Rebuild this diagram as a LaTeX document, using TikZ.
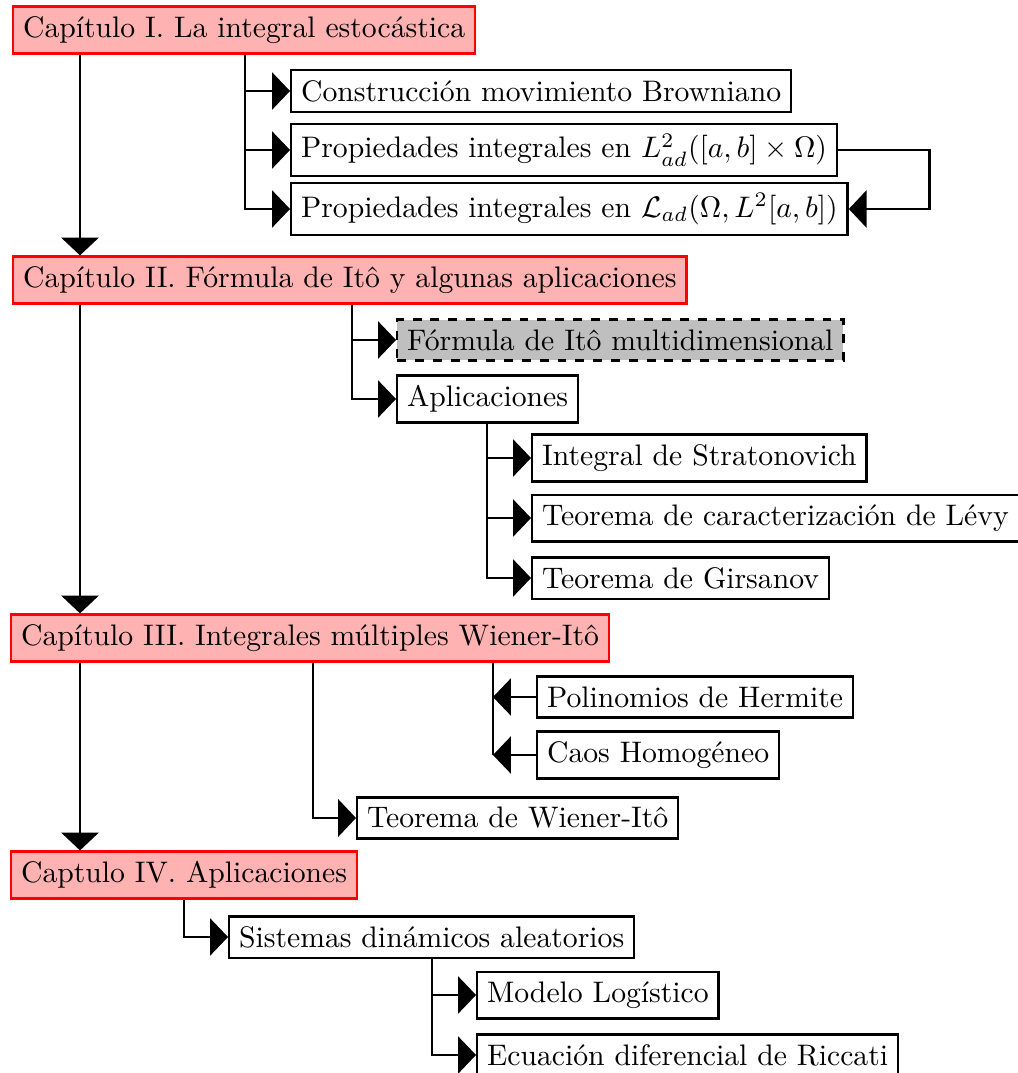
\documentclass[tikz,border=0pt]{standalone}
\usepackage{amsmath}
\usepackage{amssymb}
\usepackage{tikz}
\usetikzlibrary{arrows.meta, positioning, calc}

\begin{document}
\begin{tikzpicture}[x=0.3367pt, y={(0pt,-0.3367pt)},
  chapbox/.style={draw=red, thick, fill=red!30, anchor=west},
  itembox/.style={draw=black, thick, fill=white, anchor=west},
  greybox/.style={itembox, dashed, fill=gray!50},
  tree/.style={-{Triangle[length=6pt,width=12.5pt]}},
  spine/.style={line width=1pt, -{Triangle[length=6pt,width=12.5pt]}}]
\useasboundingbox (0,0) rectangle (1018,1073);

% chapters
\node[chapbox] (capI)   at (12,30)  {Capítulo I. La integral estocástica};
\node[chapbox] (capII)  at (12,280) {Capítulo II. Fórmula de Itô y algunas aplicaciones};
\node[chapbox] (capIII) at (10,638) {Capítulo III. Integrales múltiples Wiener-Itô};
\node[chapbox] (capIV)  at (10,875) {Captulo IV. Aplicaciones};

% branch points
\coordinate (axis) at (80,0);
\coordinate (bI)   at (245,0);
\coordinate (bII)  at (352,0);
\coordinate (bap)  at (487,0);
\coordinate (bwi)  at (313,0);
\coordinate (bher) at (493,0);
\coordinate (bIV)  at (184,0);
\coordinate (bsis) at (432,0);

% capitulo I
\node[itembox] (brown) at (290,91)  {Construcción movimiento Browniano};
\node[itembox] (propA) at (290,150) {Propiedades integrales en $L^2_{ad}([a,b]\times\Omega)$};
\node[itembox] (propB) at (290,209) {Propiedades integrales en $\mathcal{L}_{ad}(\Omega,L^2[a,b])$};

% capitulo II
\node[greybox] (multi) at (396,340) {Fórmula de Itô multidimensional};
\node[itembox] (aplic) at (396,399) {Aplicaciones};
\node[itembox] (strat) at (531,458) {Integral de Stratonovich};
\node[itembox] (levy)  at (531,518) {Teorema de caracterización de Lévy};
\node[itembox] (girs)  at (531,578) {Teorema de Girsanov};

% capitulo III
\node[itembox] (herm)  at (536,697) {Polinomios de Hermite};
\node[itembox] (caos)  at (536,755) {Caos Homogéneo};
\node[itembox] (wien)  at (356,818) {Teorema de Wiener-Itô};

% capitulo IV
\node[itembox] (sist)  at (228,937)  {Sistemas dinámicos aleatorios};
\node[itembox] (logis) at (476,995)  {Modelo Logístico};
\node[itembox] (ricc)  at (476,1055) {Ecuación diferencial de Riccati};

% main line
\draw[spine] (capI.south -| axis)   -- (capII.north -| axis);
\draw[spine] (capII.south -| axis)  -- (capIII.north -| axis);
\draw[spine] (capIII.south -| axis) -- (capIV.north -| axis);

% trees
\draw[tree] (capI.south -| bI) |- (brown.west);
\draw[tree] (capI.south -| bI) |- (propA.west);
\draw[tree] (capI.south -| bI) |- (propB.west);
\draw[spine] (propA.east) -- ++(91,0) |- (propB.east);

\draw[tree] (capII.south -| bII) |- (multi.west);
\draw[tree] (capII.south -| bII) |- (aplic.west);
\draw[tree] (aplic.south -| bap) |- (strat.west);
\draw[tree] (aplic.south -| bap) |- (levy.west);
\draw[tree] (aplic.south -| bap) |- (girs.west);

\draw (capIII.south -| bher) -- (caos.west -| bher);
\draw[tree] (herm.west) -- (herm.west -| bher);
\draw[tree] (caos.west) -- (caos.west -| bher);
\draw[spine] (capIII.south -| bwi) |- (wien.west);

\draw[tree] (capIV.south -| bIV) |- (sist.west);
\draw[tree] (sist.south -| bsis) |- (logis.west);
\draw[tree] (sist.south -| bsis) |- (ricc.west);
\end{tikzpicture}
\end{document}
